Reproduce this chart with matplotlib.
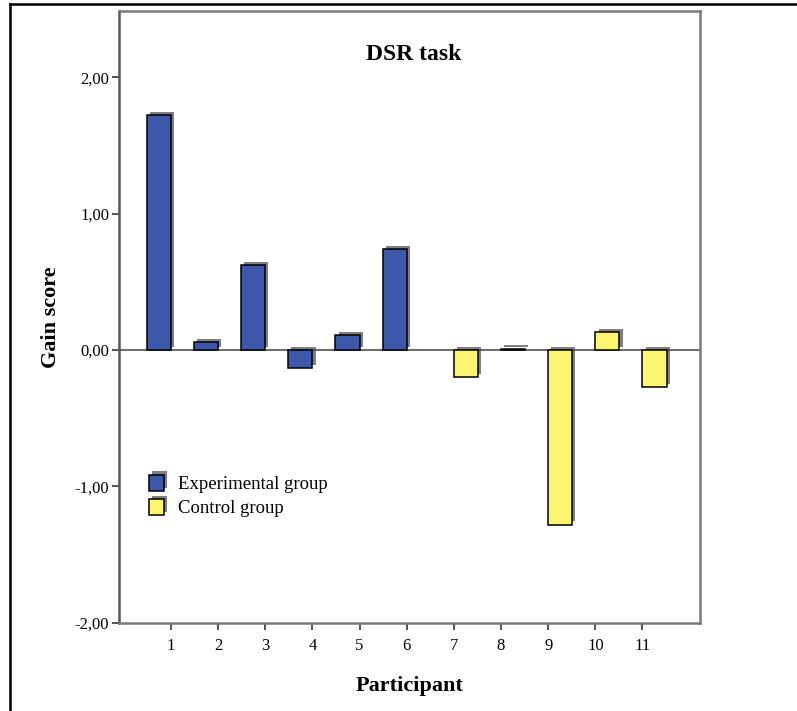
import matplotlib
matplotlib.use("Agg")
import matplotlib.pyplot as plt
import matplotlib.patheffects as pe
from matplotlib.lines import Line2D
from matplotlib.patches import Patch

plt.rcParams["font.family"] = ["Liberation Serif", "DejaVu Serif"]

# data
participants = list(range(1, 12))
exp_participants = [1, 2, 3, 4, 5, 6]
exp_gain = [1.72, 0.06, 0.62, -0.13, 0.11, 0.74]
ctrl_participants = [7, 8, 9, 10, 11]
ctrl_gain = [-0.20, 0.01, -1.28, 0.13, -0.27]
y_ticks = [-2, -1, 0, 1, 2]
y_labels = ["-2,00", "-1,00", "0,00", "1,00", "2,00"]

EXP_COLOR = "#3d58ab"
CTRL_COLOR = "#fbf56f"
FRAME = "#7a7a7a"
shadow = [pe.SimplePatchShadow(offset=(2.3, 2.3), shadow_rgbFace="#4a4a4a", alpha=0.7),
          pe.Normal()]

fig = plt.figure(figsize=(7.97, 7.11), dpi=100)
ax = fig.add_axes([119 / 797, 1 - 622.7 / 711, 581 / 797, 611.7 / 711])

# clustered layout: experimental bar left of the tick, control bar right of it
w = 0.51
ax.bar([p - w / 2 for p in exp_participants], exp_gain, width=w,
       color=EXP_COLOR, edgecolor="black", linewidth=1.1, path_effects=shadow, zorder=3)
ax.bar([p + w / 2 for p in ctrl_participants], ctrl_gain, width=w,
       color=CTRL_COLOR, edgecolor="black", linewidth=1.1, path_effects=shadow, zorder=3)

ax.axhline(0, color="#444444", linewidth=1.1, zorder=2)

ax.set_xlim(-0.1, 12.22)
ax.set_ylim(-2, 2.486)
ax.set_xticks(participants)
ax.set_xticklabels([str(p) for p in participants], fontsize=12)
ax.set_yticks(y_ticks)
ax.set_yticklabels(y_labels, fontsize=12)
ax.tick_params(axis="x", direction="out", length=5, width=1.3, color="#444444", pad=6)
ax.tick_params(axis="y", direction="out", length=5, width=1.3, color="#444444", pad=2)

for side in ["top", "right", "bottom", "left"]:
    ax.spines[side].set_color(FRAME)
    ax.spines[side].set_linewidth(1.8)
ax.spines["left"].set_color("#555555")

ax.text(0.507, (622.7 - 55) / 611.7, "DSR task", transform=ax.transAxes,
        ha="center", va="center", fontsize=17, fontweight="bold")
ax.set_xlabel("Participant", fontsize=16, fontweight="bold", labelpad=16)
ax.set_ylabel("Gain score", fontsize=16, fontweight="bold", labelpad=10)

handles = [
    Patch(facecolor=EXP_COLOR, edgecolor="black", linewidth=1.1, path_effects=shadow),
    Patch(facecolor=CTRL_COLOR, edgecolor="black", linewidth=1.1, path_effects=shadow),
]
ax.legend(handles, ["Experimental group", "Control group"], loc="center left",
          bbox_to_anchor=(30 / 581, (622.7 - 496) / 611.7), frameon=False, fontsize=13.5,
          handlelength=0.8, handleheight=0.95, handletextpad=0.75, labelspacing=0.3,
          borderpad=0, borderaxespad=0)

# outer page frame (left and top edges only)
fig.add_artist(Line2D([10 / 797, 10 / 797], [0, 1 - 4 / 711], transform=fig.transFigure,
                      color="black", linewidth=1.8))
fig.add_artist(Line2D([10 / 797, 1], [1 - 4 / 711, 1 - 4 / 711], transform=fig.transFigure,
                      color="black", linewidth=1.8))

fig.savefig("out.png", dpi=100)
